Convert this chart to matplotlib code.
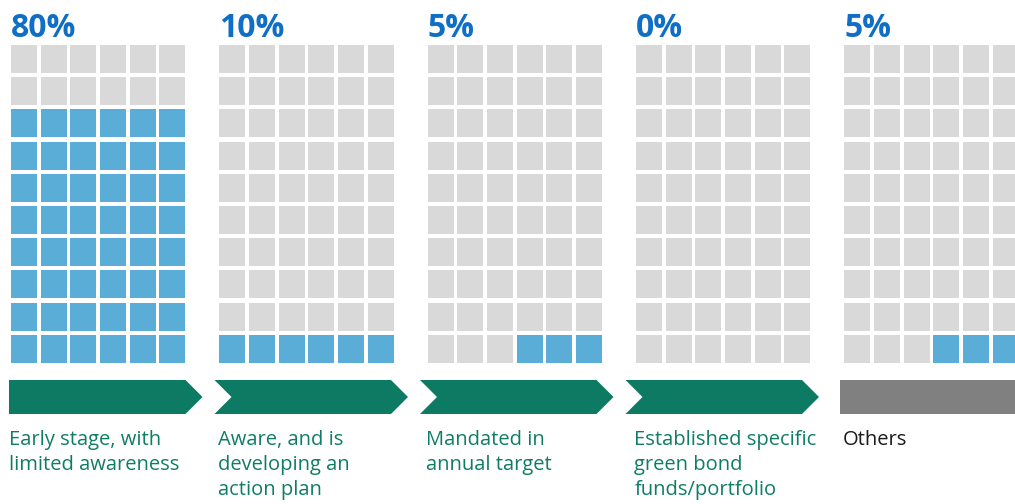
import matplotlib.pyplot as plt
from matplotlib.patches import Rectangle, Polygon

# data
pcts = [80, 10, 5, 0, 5]
labels = ["Early stage, with\nlimited awareness",
          "Aware, and is\ndeveloping an\naction plan",
          "Mandated in\nannual target",
          "Established specific\ngreen bond\nfunds/portfolio",
          "Others"]
arrow_colors = ["#0d7a63", "#0d7a63", "#0d7a63", "#0d7a63", "#808080"]
label_colors = ["#0f7d65", "#0f7d65", "#0f7d65", "#0f7d65", "#1a1a1a"]

n_rows, n_cols = 10, 6
blue = "#5aadd6"
grey = "#d9d9d9"

fig = plt.figure(figsize=(10.15, 5.04), dpi=100)
ax = fig.add_axes([0, 0, 1, 1])
ax.set_xlim(0, 1015)
ax.set_ylim(504, 0)
ax.axis("off")

panel_x0, panel_step = 11, 208.3
col_step, row_step = 29.7, 32.2
sq_w, sq_h = 26, 28
grid_top = 45
arrow_x0, arrow_step, arrow_w = 9, 205.5, 193.5
arrow_top, arrow_h = 380, 34
tip = 17

for i, (p, lab) in enumerate(zip(pcts, labels)):
    x0 = panel_x0 + i * panel_step
    n_fill = round(p / 100 * n_rows * n_cols)
    # squares, filled from the bottom right
    for r in range(n_rows):
        for c in range(n_cols):
            idx = (n_rows - 1 - r) * n_cols + (n_cols - 1 - c)
            color = blue if idx < n_fill else grey
            ax.add_patch(Rectangle((x0 + c * col_step, grid_top + r * row_step),
                                   sq_w, sq_h, facecolor=color, edgecolor="none"))
    ax.text(x0, 37, f"{p}%", color="#0f6fc6", fontsize=23, fontweight="bold",
            family="Open Sans", ha="left", va="baseline")

    # chevron
    left = arrow_x0 + i * arrow_step
    right = left + arrow_w
    yt, yb, ym = arrow_top, arrow_top + arrow_h, arrow_top + arrow_h / 2
    if i == len(pcts) - 1:
        ax.add_patch(Rectangle((left + 9, yt), 200, arrow_h,
                               facecolor=arrow_colors[i], edgecolor="none"))
    else:
        pts = [(left, yt), (right - tip, yt), (right, ym), (right - tip, yb), (left, yb)]
        if i > 0:
            pts.append((left + tip, ym))
        ax.add_patch(Polygon(pts, closed=True, facecolor=arrow_colors[i], edgecolor="none"))

    ax.text(x0 - 1.5, 430, lab, color=label_colors[i], fontsize=14.5, family="Open Sans",
            ha="left", va="top", linespacing=1.33)

fig.savefig("out.png", dpi=100)
